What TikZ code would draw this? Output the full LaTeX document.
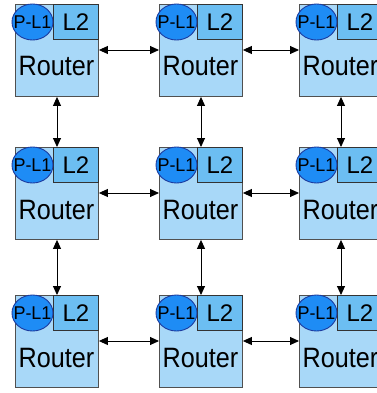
\documentclass[tikz,border=0pt]{standalone}
\usepackage{fontspec}
\setmainfont{Liberation Sans}
\usetikzlibrary{arrows.meta,calc,shapes.geometric}
\definecolor{boxfill}{HTML}{A8D8F8}
\definecolor{ltwofill}{HTML}{6CBEF2}
\definecolor{plfill}{HTML}{1E8CF5}
\definecolor{pldraw}{HTML}{1C3CA0}
\definecolor{edge}{HTML}{505050}
\tikzset{
  routerbox/.style={draw=edge, line width=0.9pt, fill=boxfill, minimum width=83pt, minimum height=92pt, inner sep=0pt, anchor=north west},
  ltwobox/.style={draw=black!80, line width=0.9pt, fill=ltwofill, minimum width=45pt, minimum height=35pt, inner sep=0pt, anchor=north east, font=\fontsize{24}{24}\selectfont},
  plone/.style={ellipse, draw=pldraw, line width=0.9pt, fill=plfill, minimum width=41pt, minimum height=36pt, inner sep=0pt},
  pltext/.style={inner sep=0pt, font=\fontsize{18.5}{18.5}\selectfont, xscale=0.97},
  rlabel/.style={inner sep=0pt, anchor=base, font=\fontsize{28}{28}\selectfont, xscale=0.9},
  link/.style={{Triangle[length=9pt,width=8pt]}-{Triangle[length=9pt,width=8pt]}, line width=0.9pt, black}
}
\begin{document}
\begin{tikzpicture}[x=1pt,y=-1pt]
\useasboundingbox[fill=white] (0,0) rectangle (376,393);
\foreach \r/\yy in {1/4,2/147,3/295}{
  \foreach \c/\xx in {1/15,2/159,3/299}{
    \node[routerbox] (r\r\c) at (\xx,\yy) {};
    \node[ltwobox] (l\r\c) at (r\r\c.north east) {L2};
    \node[plone] (p\r\c) at ($(r\r\c.north west)+(17.5,18)$) {};
    \node[pltext] (q\r\c) at (p\r\c.center) {P-L1};
    \node[rlabel] (t\r\c) at ($(r\r\c.north west)+(41.5,72)$) {Router};
  }
}
\foreach \r in {1,2,3}{
  \draw[link] ([yshift=-46pt]r\r1.north east) -- ([yshift=-46pt]r\r2.north west);
  \draw[link] ([yshift=-46pt]r\r2.north east) -- ([yshift=-46pt]r\r3.north west);
}
\foreach \c in {1,2,3}{
  \draw[link] ([xshift=42pt]r1\c.south west) -- ([xshift=42pt]r2\c.north west);
  \draw[link] ([xshift=42pt]r2\c.south west) -- ([xshift=42pt]r3\c.north west);
}
\end{tikzpicture}
\end{document}
